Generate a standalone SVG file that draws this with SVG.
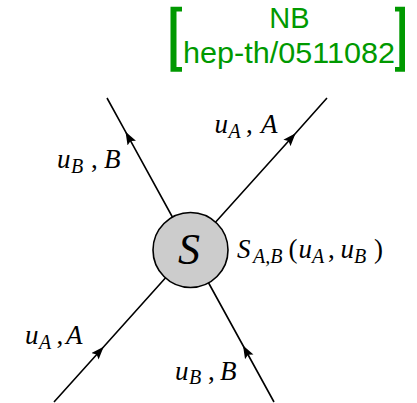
<svg xmlns="http://www.w3.org/2000/svg" width="417" height="403" viewBox="0 0 417 403">
<style>
.ln{fill:none;stroke:#000;stroke-width:1.6;marker-mid:url(#arr)}
.t{font-family:'Liberation Sans',Arial,sans-serif;font-size:29px;fill:#009900;text-anchor:middle}
.m{font-family:'Liberation Serif','Times New Roman',serif;font-size:27px;fill:#000}
.i{font-style:italic}
.s{font-size:20px;font-style:italic}
</style>
<defs>
<marker id="arr" markerUnits="userSpaceOnUse" viewBox="-13 -5 13 10" markerWidth="13" markerHeight="10" refX="0" refY="0" orient="auto">
<path d="M0,0 L-13,-4.8 L-10.5,0 L-13,4.8 Z" fill="#000"/>
</marker>
</defs>
<g id="title">
<path d="M182,6.7 H170.5 V71.7 H182 V67 H176.5 V11.4 H182 Z" fill="#009900"/>
<path d="M395,6.7 H405 V71.7 H395 V67 H399.3 V11.4 H395 Z" fill="#009900"/>
<text class="t" x="289.5" y="28">NB</text>
<text class="t" x="289" y="63" textLength="212" lengthAdjust="spacingAndGlyphs">hep-th/0511082</text>
</g>
<g id="connectors">
<path class="ln" d="M190.5,250 L125.5,131.7 L107,98"/>
<path class="ln" d="M190.5,250 L295.6,133.3 L327,98"/>
<path class="ln" d="M54,402 L103.7,346.7 L190.5,250"/>
<path class="ln" d="M274,402 L243,345.5 L190.5,250"/>
</g>
<g id="node-S">
<circle cx="190.5" cy="250" r="37.5" fill="#cccccc" stroke="#000" stroke-width="1.6"/>
<text x="189" y="264" font-family="'Liberation Serif','Times New Roman',serif" font-size="44" font-style="italic" text-anchor="middle">S</text>
</g>
<g id="label-S">
<text class="m" y="258"><tspan class="i" x="237">S</tspan><tspan class="s" x="253" dy="5">A,B</tspan><tspan x="288.5" dy="-5">(</tspan><tspan class="i" x="298.5">u</tspan><tspan class="s" x="312" dy="5">A</tspan><tspan x="328" dy="-5">,</tspan><tspan class="i" x="340.5">u</tspan><tspan class="s" x="354" dy="5">B</tspan><tspan x="374" dy="-5">)</tspan></text>
</g>
<g id="labels">
<text class="m" y="168.3"><tspan class="i" x="57">u</tspan><tspan class="s" x="71" dy="4.5">B</tspan><tspan x="91" dy="-4.5">,</tspan><tspan class="i" x="104">B</tspan></text>
<text class="m" y="133.3"><tspan class="i" x="214.5">u</tspan><tspan class="s" x="228.5" dy="4.5">A</tspan><tspan x="246" dy="-4.5">,</tspan><tspan class="i" x="261">A</tspan></text>
<text class="m" y="344"><tspan class="i" x="25">u</tspan><tspan class="s" x="39" dy="4.5">A</tspan><tspan x="56.5" dy="-4.5">,</tspan><tspan class="i" x="66">A</tspan></text>
<text class="m" y="379.5"><tspan class="i" x="175">u</tspan><tspan class="s" x="189" dy="4.5">B</tspan><tspan x="208" dy="-4.5">,</tspan><tspan class="i" x="220">B</tspan></text>
</g>
</svg>
